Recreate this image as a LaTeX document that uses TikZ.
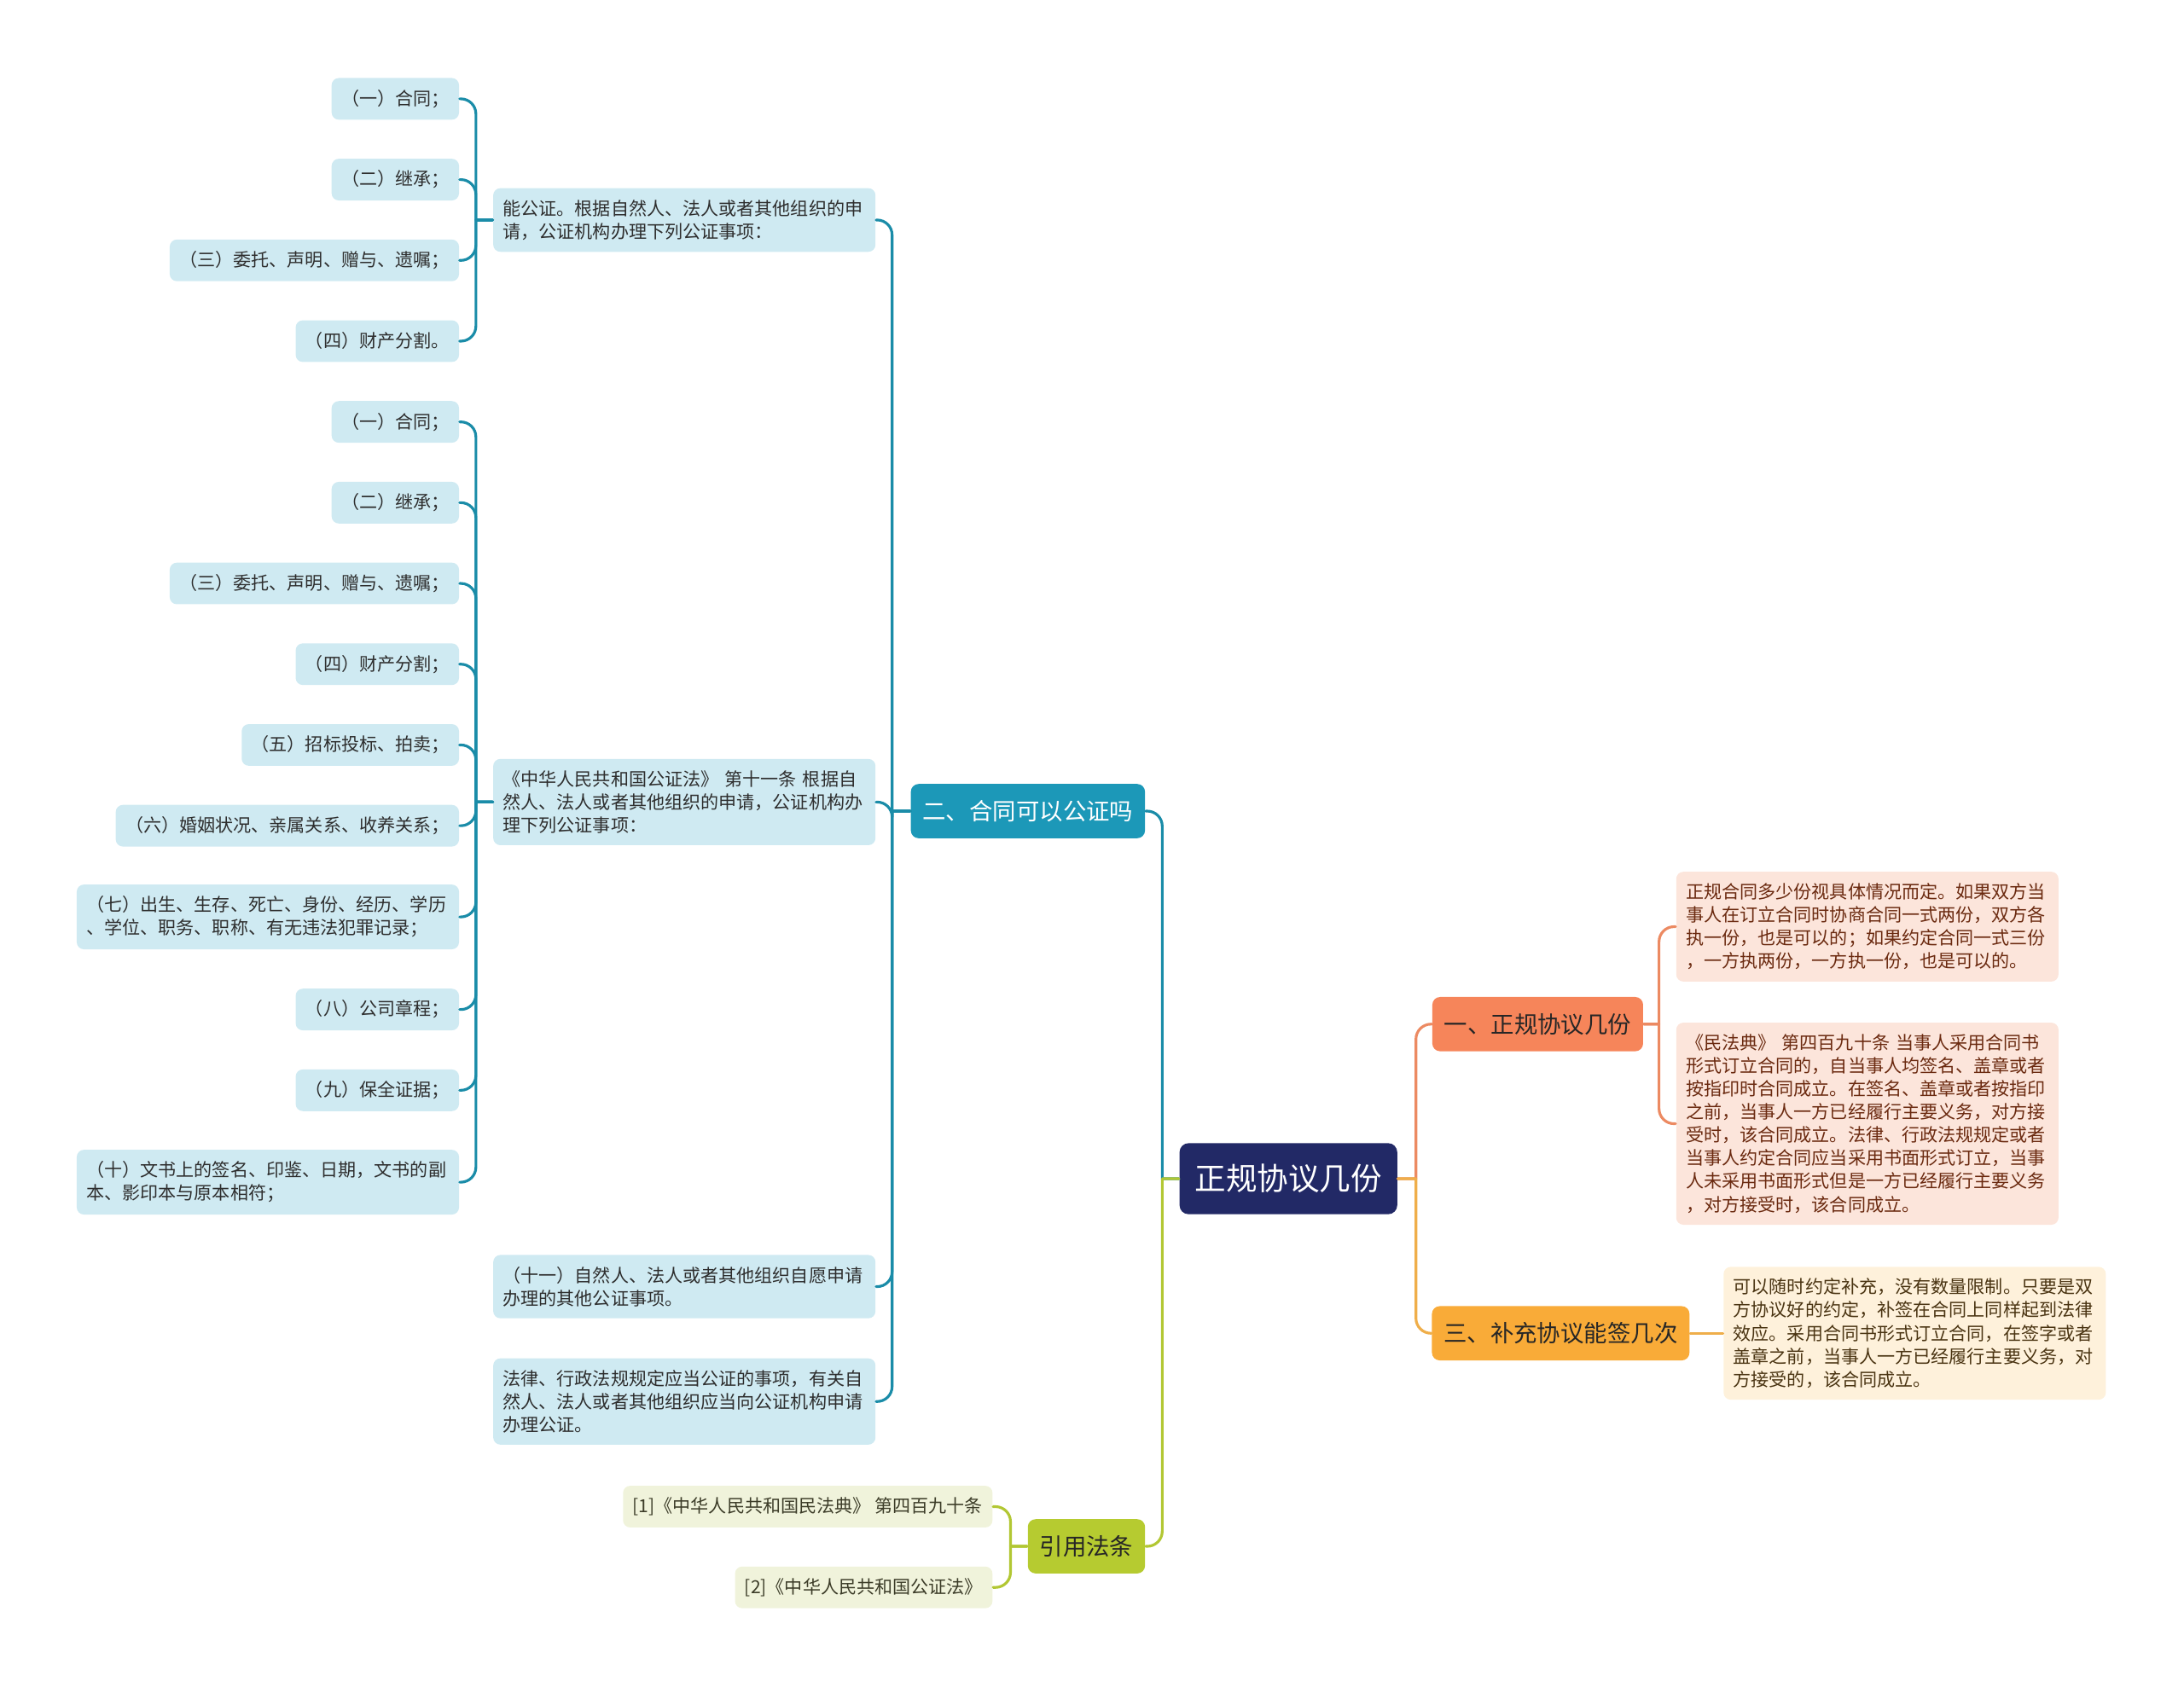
\documentclass[tikz,border=0pt]{standalone}
\usepackage{fontspec}
\setmainfont{Noto Sans CJK SC}
\definecolor{rootfill}{HTML}{222966}
\definecolor{tealfill}{HTML}{1C98B8}
\definecolor{tealline}{HTML}{1A8CA8}
\definecolor{tealpale}{HTML}{CFEAF2}
\definecolor{orangefill}{HTML}{F6855A}
\definecolor{orangeline}{HTML}{EC8A62}
\definecolor{orangepale}{HTML}{FCE5DB}
\definecolor{amberfill}{HTML}{F9AB38}
\definecolor{amberline}{HTML}{EFAE4A}
\definecolor{amberpale}{HTML}{FEF1DB}
\definecolor{olivefill}{HTML}{B6CB30}
\definecolor{oliveline}{HTML}{B2C733}
\definecolor{olivepale}{HTML}{F0F3DB}
\definecolor{leafink}{HTML}{2E2E2E}
\definecolor{redink}{HTML}{6B2A10}
\definecolor{brownink}{HTML}{4A3412}
\definecolor{oliveink}{HTML}{3C3C28}
\begin{document}
\begin{tikzpicture}[x=0.16327mm, y=-0.16327mm, line join=round, line cap=round,
	box/.style={rounded corners=2.4pt, inner xsep=3.25pt, inner ysep=3.9pt,
		minimum height=13.9pt, font=\fontsize{6}{7.7}\selectfont, align=left},
	widebox/.style={box, text width=121pt},
	tealleaf/.style={fill=tealpale, text=leafink},
	orangeleaf/.style={fill=orangepale, text=redink},
	amberleaf/.style={fill=amberpale, text=brownink},
	oliveleaf/.style={fill=olivepale, text=oliveink},
	topic/.style={rounded corners=2.6pt, inner xsep=3.95pt, inner ysep=2pt,
		minimum height=18.1pt, font=\fontsize{7.8}{9}\selectfont},
	link/.style={line width=0.9pt}]
	\useasboundingbox (0,0) rectangle (1568,1211);
	% centre and main topics
	\node[rounded corners=3pt, fill=rootfill, text=white, inner xsep=5.1pt,
		minimum height=23.7pt, font=\fontsize{10.4}{12}\selectfont] (root) at (925,846.5) {正规协议几份};
	\node[topic, fill=tealfill, text=white] (q2) at (738,582.5) {二、合同可以公证吗};
	\node[topic, fill=orangefill, text=black!85] (q1) at (1104,735.5) {一、正规协议几份};
	\node[topic, fill=amberfill, text=black!85] (q3) at (1120.5,957.5) {三、补充协议能签几次};
	\node[topic, fill=olivefill, text=black!85] (cite) at (780,1110.5) {引用法条};
	% second level, left
	\node[widebox, tealleaf, anchor=east] (na) at (629,158) {能公证。根据自然人、法人或者其他组织的申\\请，公证机构办理下列公证事项：};
	\node[widebox, tealleaf, anchor=east] (nb) at (629,576) {《中华人民共和国公证法》 第十一条 根据自\\然人、法人或者其他组织的申请，公证机构办\\理下列公证事项：};
	\node[widebox, tealleaf, anchor=east] (nc) at (629,924) {（十一）自然人、法人或者其他组织自愿申请\\办理的其他公证事项。};
	\node[widebox, tealleaf, anchor=east] (nd) at (629,1006.5) {法律、行政法规规定应当公证的事项，有关自\\然人、法人或者其他组织应当向公证机构申请\\办理公证。};
	% leaves of na
	\node[box, tealleaf, anchor=east] (na1) at (330,71) {（一）合同；};
	\node[box, tealleaf, anchor=east] (na2) at (330,129) {（二）继承；};
	\node[box, tealleaf, anchor=east] (na3) at (330,187) {（三）委托、声明、赠与、遗嘱；};
	\node[box, tealleaf, anchor=east] (na4) at (330,245) {（四）财产分割。};
	% leaves of nb
	\node[box, tealleaf, anchor=east] (nb1) at (330,303) {（一）合同；};
	\node[box, tealleaf, anchor=east] (nb2) at (330,361) {（二）继承；};
	\node[box, tealleaf, anchor=east] (nb3) at (330,419) {（三）委托、声明、赠与、遗嘱；};
	\node[box, tealleaf, anchor=east] (nb4) at (330,477) {（四）财产分割；};
	\node[box, tealleaf, anchor=east] (nb5) at (330,535) {（五）招标投标、拍卖；};
	\node[box, tealleaf, anchor=east] (nb6) at (330,593) {（六）婚姻状况、亲属关系、收养关系；};
	\node[widebox, tealleaf, anchor=east] (nb7) at (330,658.5) {（七）出生、生存、死亡、身份、经历、学历\\、学位、职务、职称、有无违法犯罪记录；};
	\node[box, tealleaf, anchor=east] (nb8) at (330,725) {（八）公司章程；};
	\node[box, tealleaf, anchor=east] (nb9) at (330,783) {（九）保全证据；};
	\node[widebox, tealleaf, anchor=east] (nb10) at (330,849) {（十）文书上的签名、印鉴、日期，文书的副\\本、影印本与原本相符；};
	% right side
	\node[widebox, orangeleaf, anchor=west] (r1) at (1203,665.5) {正规合同多少份视具体情况而定。如果双方当\\事人在订立合同时协商合同一式两份，双方各\\执一份，也是可以的；如果约定合同一式三份\\，一方执两份，一方执一份，也是可以的。};
	\node[widebox, orangeleaf, anchor=west] (r2) at (1203,807) {《民法典》 第四百九十条 当事人采用合同书\\形式订立合同的，自当事人均签名、盖章或者\\按指印时合同成立。在签名、盖章或者按指印\\之前，当事人一方已经履行主要义务，对方接\\受时，该合同成立。法律、行政法规规定或者\\当事人约定合同应当采用书面形式订立，当事\\人未采用书面形式但是一方已经履行主要义务\\，对方接受时，该合同成立。};
	\node[widebox, amberleaf, anchor=west] (s1) at (1237,957.5) {可以随时约定补充，没有数量限制。只要是双\\方协议好的约定，补签在合同上同样起到法律\\效应。采用合同书形式订立合同，在签字或者\\盖章之前，当事人一方已经履行主要义务，对\\方接受的，该合同成立。};
	% references
	\node[box, oliveleaf, anchor=east] (c1) at (713,1082) {[1]《中华人民共和国民法典》 第四百九十条};
	\node[box, oliveleaf, anchor=east] (c2) at (713,1140) {[2]《中华人民共和国公证法》};
	% connectors
	\draw[link, tealline] (root.west) -- ++(-12,0) [rounded corners=5] |- (q2.east);
	\draw[link, oliveline] (root.west) -- ++(-12,0) [rounded corners=5] |- (cite.east);
	\draw[link, orangeline] (root.east) -- ++(13,0) [rounded corners=5] |- (q1.west);
	\draw[link, amberline] (root.east) -- ++(13,0) [rounded corners=5] |- (q3.west);
	\foreach \n in {na,nb,nc,nd}
		\draw[link, tealline] (q2.west) -- ++(-13,0) [rounded corners=5] |- (\n.east);
	\foreach \n in {na1,na2,na3,na4}
		\draw[link, tealline] (na.west) -- ++(-12,0) [rounded corners=5] |- (\n.east);
	\foreach \n in {nb1,nb2,nb3,nb4,nb5,nb6,nb7,nb8,nb9,nb10}
		\draw[link, tealline] (nb.west) -- ++(-12,0) [rounded corners=5] |- (\n.east);
	\foreach \n in {r1,r2}
		\draw[link, orangeline] (q1.east) -- ++(11,0) [rounded corners=5] |- (\n.west);
	\draw[link, amberline] (q3.east) -- (s1.west);
	\foreach \n in {c1,c2}
		\draw[link, oliveline] (cite.west) -- ++(-12,0) [rounded corners=5] |- (\n.east);
\end{tikzpicture}
\end{document}
